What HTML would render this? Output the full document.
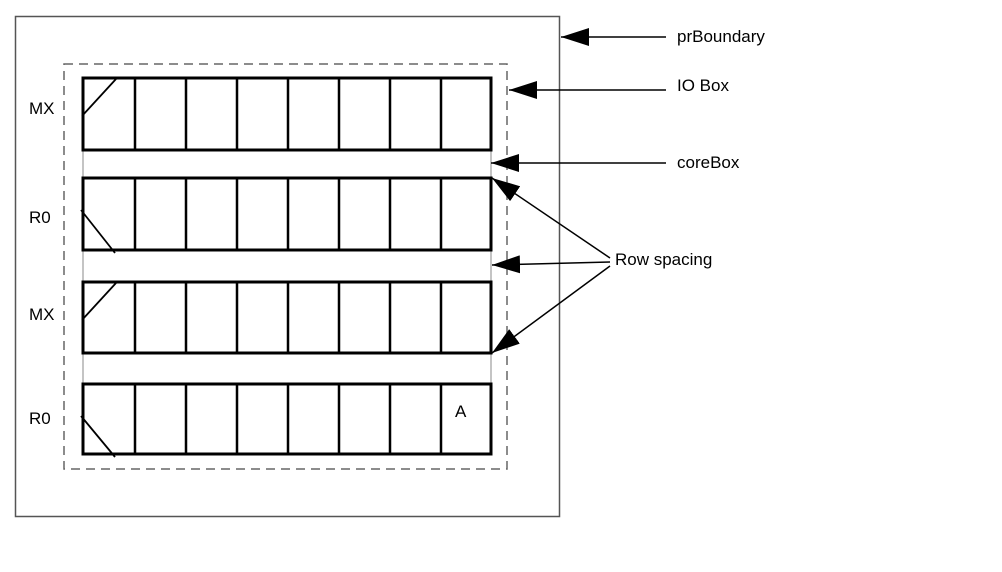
<!DOCTYPE html>
<html><head><meta charset="utf-8"><style>
body{margin:0;background:#fff;}
svg{display:block;font-family:"Liberation Sans",sans-serif;}
</style></head><body>
<svg width="1002" height="572" viewBox="0 0 1002 572">
<defs><marker id="ah" markerWidth="10" markerHeight="8" refX="10" refY="4" orient="auto" markerUnits="userSpaceOnUse" viewBox="0 0 10 8"><path d="M0,0 L10,4 L0,8 Z" fill="#000"/></marker>
<marker id="ah2" markerWidth="28" markerHeight="18" refX="28" refY="9" orient="auto" markerUnits="userSpaceOnUse" viewBox="0 0 28 18"><path d="M0,0 L28,9 L0,18 Z" fill="#000"/></marker></defs>
<rect x="15.5" y="16.5" width="544" height="500" fill="none" stroke="#555" stroke-width="1.5"/>
<rect x="64" y="64" width="443" height="405" fill="none" stroke="#666" stroke-width="1.5" stroke-dasharray="9,6"/>
<g stroke="#888" stroke-width="1" fill="none">
<line x1="83" y1="78" x2="83" y2="454"/><line x1="491" y1="78" x2="491" y2="454"/>
</g>
<g id="rows"></g>
<g font-size="17" fill="#000">
<text x="29" y="114">MX</text><text x="29" y="223">R0</text><text x="29" y="320">MX</text><text x="29" y="424">R0</text>
<text x="455" y="417">A</text>
</g>
<g font-size="17" fill="#000">
<text x="677" y="42">prBoundary</text>
<text x="677" y="91">IO Box</text>
<text x="677" y="168">coreBox</text>
<text x="615" y="265">Row spacing</text>
</g>
<g stroke="#000" stroke-width="1.5" fill="none">
<line x1="666" y1="37" x2="561" y2="37" marker-end="url(#ah2)"/>
<line x1="666" y1="90" x2="509" y2="90" marker-end="url(#ah2)"/>
<line x1="666" y1="163" x2="491" y2="163" marker-end="url(#ah2)"/>
<line x1="610" y1="258" x2="492" y2="178" marker-end="url(#ah2)"/>
<line x1="610" y1="262" x2="492" y2="265" marker-end="url(#ah2)"/>
<line x1="610" y1="266" x2="492" y2="353" marker-end="url(#ah2)"/>
</g>
</svg>
<script>
const rowTops=[78,178,282,384];
const rowH=[72,72,71,70];
const flips=["MX","R0","MX","R0"];
const cols=[83,135,186,237,288,339,390,441,491];
const g=document.getElementById('rows');
const NS='http://www.w3.org/2000/svg';
rowTops.forEach((t,i)=>{
  const b=t+rowH[i];
  const r=document.createElementNS(NS,'rect');
  
  
  r.setAttribute('x',83);r.setAttribute('y',t);r.setAttribute('width',408);r.setAttribute('height',rowH[i]);
  r.setAttribute('fill','none');r.setAttribute('stroke','#000');r.setAttribute('stroke-width','3');
  g.appendChild(r);
  cols.slice(1,-1).forEach(x=>{
    const l=document.createElementNS(NS,'line');
    
    
    l.setAttribute('x1',x);l.setAttribute('x2',x);l.setAttribute('y1',t);l.setAttribute('y2',b);
    l.setAttribute('stroke','#000');l.setAttribute('stroke-width','2.5');
    g.appendChild(l);
  });
  const d=document.createElementNS(NS,'line');
  
  
  if(flips[i]==="MX"){d.setAttribute('x1',82);d.setAttribute('y1',t+38);d.setAttribute('x2',116);d.setAttribute('y2',t+1);}
  else{d.setAttribute('x1',81);d.setAttribute('y1',t+32);d.setAttribute('x2',115);d.setAttribute('y2',b+3);}
  d.setAttribute('stroke','#000');d.setAttribute('stroke-width','1.8');
  g.appendChild(d);
});
</script>
</body></html>
